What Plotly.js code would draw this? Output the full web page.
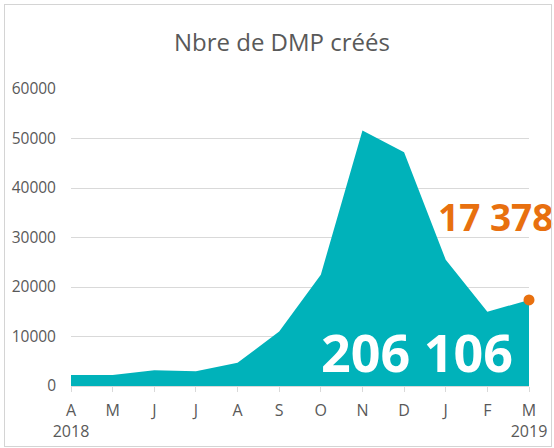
<!DOCTYPE html>
<html>
<head>
<meta charset="utf-8">
<script src="https://cdn.plot.ly/plotly-3.0.1.min.js"></script>
<style>
html,body{margin:0;padding:0;background:#fff;}
#wrap{position:relative;width:554px;height:448px;}
#chart{position:absolute;left:0;top:0;width:554px;height:448px;}
#frame{position:absolute;left:4px;top:4px;width:546px;height:441px;border:1px solid #d4d4d4;pointer-events:none;}
</style>
</head>
<body>
<div id="wrap"><div id="chart"></div><div id="frame"></div></div>
<script>
// Data
const months = ["A", "M", "J", "J", "A", "S", "O", "N", "D", "J", "F", "M"];
const years = ["2018", "", "", "", "", "", "", "", "", "", "", "2019"];
const dmpCreated = [2200, 2200, 3200, 3000, 4700, 11000, 22500, 51600, 47200, 25500, 15000, 17378];
const totalLabel = "206 106";
const lastLabel = "17 378";
const yTicks = [0, 10000, 20000, 30000, 40000, 50000, 60000];

const idx = months.map((m, i) => i);
const tickText = months.map((m, i) => years[i] ? m + "<br>" + years[i] : m);
const lastI = idx.length - 1;

const teal = "#00B2BA";
const orange = "#E8700F";
const grey = "#595959";
const font = "'Open Sans', 'Noto Sans', sans-serif";

const traces = [
  {
    x: idx, y: dmpCreated, type: "scatter", mode: "lines",
    fill: "tozeroy", fillcolor: teal, line: {width: 0, color: teal},
    hoverinfo: "skip"
  },
  {
    x: [idx[lastI]], y: [dmpCreated[lastI]], type: "scatter", mode: "markers",
    marker: {color: orange, size: 11}, cliponaxis: false, hoverinfo: "skip"
  }
];

const layout = {
  width: 554, height: 448,
  margin: {l: 71, r: 25, t: 89, b: 62},
  paper_bgcolor: "#fff", plot_bgcolor: "#fff",
  showlegend: false,
  font: {family: font, color: grey},
  title: {
    text: "Nbre de DMP créés",
    font: {family: font, size: 24, color: grey},
    x: 0.509, xanchor: "center", y: 0.905, yanchor: "middle"
  },
  xaxis: {
    range: [0, lastI],
    tickmode: "array", tickvals: idx, ticktext: tickText,
    ticks: "outside", ticklen: 5, tickcolor: "#d9d9d9",
    showline: true, linecolor: "#d9d9d9", linewidth: 1,
    showgrid: false, zeroline: false,
    ticklabelstandoff: 5,
    tickfont: {family: font, size: 16, color: grey},
    fixedrange: true
  },
  yaxis: {
    range: [0, 60000],
    tickmode: "array", tickvals: yTicks, ticktext: yTicks.map(String),
    showgrid: true, gridcolor: "#d9d9d9", gridwidth: 1,
    zeroline: false, showline: false, ticks: "",
    ticklabelstandoff: 14,
    tickfont: {family: font, size: 15.5, color: grey},
    fixedrange: true
  },
  annotations: [
    {
      x: 10.19, y: 34300, xref: "x", yref: "y",
      text: lastLabel, showarrow: false,
      font: {family: font, size: 37, color: orange, weight: "bold"},
      xanchor: "center", yanchor: "middle"
    },
    {
      x: 8.31, y: 7000, xref: "x", yref: "y",
      text: totalLabel, showarrow: false,
      font: {family: font, size: 52, color: "#ffffff", weight: "bold"},
      xanchor: "center", yanchor: "middle"
    }
  ]
};

Plotly.newPlot("chart", traces, layout, {displayModeBar: false, staticPlot: true});
</script>
</body>
</html>
